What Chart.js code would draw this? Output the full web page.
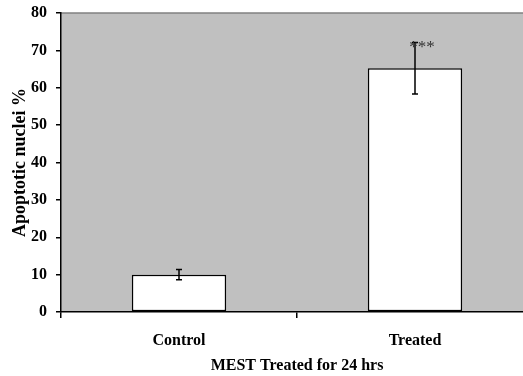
<!DOCTYPE html>
<html lang="en">
<head>
<meta charset="UTF-8">
<title>Apoptotic nuclei</title>
<script src="https://cdn.jsdelivr.net/npm/chart.js"></script>
<style>
  html, body { margin: 0; padding: 0; background: #fff; overflow: hidden; }
  #wrap { width: 533px; height: 376px; position: relative; }
</style>
</head>
<body>
<div id="wrap"><canvas id="myChart"></canvas></div>
<script>
const categories = ['Control', 'Treated'];
const meanValues = [10, 65.2];
const errorValues = [1.4, 6.9];
const markLabels = ['', '***'];
const yTicks = [0, 10, 20, 30, 40, 50, 60, 70, 80];

const FONT = '"Liberation Serif", "Times New Roman", serif';

// gray plot area plus top border
const plotBackground = {
  id: 'plotBackground',
  beforeDraw(chart) {
    const { ctx, chartArea: a } = chart;
    ctx.save();
    ctx.fillStyle = '#c0c0c0';
    ctx.fillRect(a.left, a.top, a.right - a.left, a.bottom - a.top);
    ctx.strokeStyle = '#808080';
    ctx.lineWidth = 1.5;
    ctx.beginPath();
    ctx.moveTo(a.left, a.top);
    ctx.lineTo(a.right, a.top);
    ctx.stroke();
    ctx.restore();
  }
};

// error bars and significance marks
const errorBars = {
  id: 'errorBars',
  afterDatasetsDraw(chart) {
    const { ctx } = chart;
    const y = chart.scales.y;
    const meta = chart.getDatasetMeta(0);
    ctx.save();
    ctx.strokeStyle = '#000';
    ctx.lineWidth = 1.5;
    meta.data.forEach((bar, i) => {
      const x = bar.x;
      const hi = y.getPixelForValue(meanValues[i] + errorValues[i]);
      const lo = y.getPixelForValue(meanValues[i] - errorValues[i]);
      ctx.beginPath();
      ctx.moveTo(x, hi); ctx.lineTo(x, lo);
      ctx.moveTo(x - 3, hi); ctx.lineTo(x + 3, hi);
      ctx.moveTo(x - 3, lo); ctx.lineTo(x + 3, lo);
      ctx.stroke();
      if (markLabels[i]) {
        ctx.fillStyle = '#333';
        ctx.font = '17px ' + FONT;
        ctx.textAlign = 'center';
        ctx.textBaseline = 'middle';
        ctx.fillText(markLabels[i], x + 7, hi + 5);
      }
    });
    ctx.restore();
  }
};

new Chart(document.getElementById('myChart'), {
  type: 'bar',
  data: {
    labels: categories,
    datasets: [{
      data: meanValues,
      backgroundColor: '#ffffff',
      borderColor: '#000000',
      borderWidth: 1.5,
      borderSkipped: false,
      barPercentage: 0.4,
      categoryPercentage: 1.0
    }]
  },
  options: {
    responsive: true,
    maintainAspectRatio: false,
    animation: false,
    layout: { padding: { top: 1, right: 0, left: 11, bottom: 2 } },
    plugins: {
      legend: { display: false },
      tooltip: { enabled: false }
    },
    scales: {
      x: {
        offset: true,
        grid: {
          offset: true,
          drawOnChartArea: false,
          drawTicks: true,
          tickLength: 6,
          color: '#000',
          lineWidth: 1.5
        },
        border: { color: '#000', width: 1.5 },
        ticks: {
          color: '#000',
          padding: 15,
          font: { family: FONT, size: 16, weight: 'bold', lineHeight: 1 }
        },
        title: {
          display: true,
          text: 'MEST Treated for 24 hrs',
          color: '#000',
          padding: { top: -6, bottom: 0 },
          font: { family: FONT, size: 16, weight: 'bold', lineHeight: 1 }
        }
      },
      y: {
        min: 0,
        max: 80,
        afterBuildTicks(axis) { axis.ticks = yTicks.map(v => ({ value: v })); },
        grid: {
          drawOnChartArea: false,
          drawTicks: true,
          tickLength: 5,
          color: '#000',
          lineWidth: 1.5
        },
        border: { color: '#000', width: 1.5 },
        ticks: {
          color: '#000',
          padding: 9,
          font: { family: FONT, size: 16, weight: 'bold', lineHeight: 0.5 }
        },
        title: {
          display: true,
          text: 'Apoptotic nuclei %',
          color: '#000',
          padding: { top: 0, bottom: -7 },
          font: { family: FONT, size: 18, weight: 'bold', lineHeight: 1 }
        }
      }
    }
  },
  plugins: [plotBackground, errorBars]
});
</script>
</body>
</html>
